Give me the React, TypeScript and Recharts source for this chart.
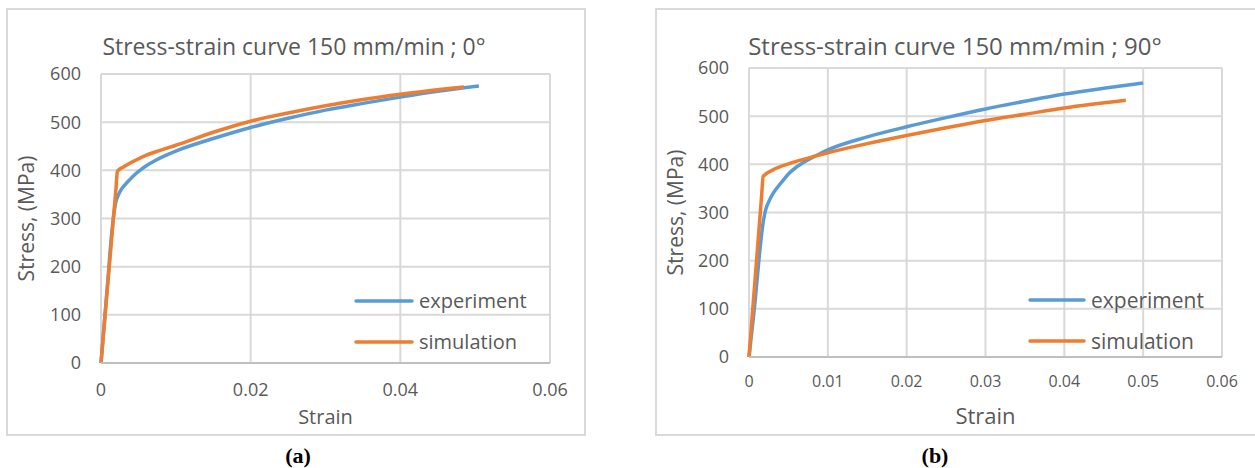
import { LineChart, Line, XAxis, YAxis, CartesianGrid, Legend } from "recharts"

// panel (a): 0 degrees
const strainExp0 = [0, 0.0008, 0.0015, 0.0018, 0.002, 0.0023, 0.0027, 0.0032, 0.0038, 0.0045, 0.0053, 0.0062, 0.0072, 0.0085, 0.01, 0.015, 0.02, 0.025, 0.03, 0.035, 0.04, 0.045, 0.0505]
const stressExp0 = [0, 150, 280, 318, 335, 348, 360, 370, 380, 391, 401, 411, 420, 430, 440, 466, 489, 508, 525, 539, 552, 564, 575]
const strainSim0 = [0, 0.002, 0.0022, 0.003, 0.0045, 0.006, 0.008, 0.01, 0.015, 0.02, 0.025, 0.03, 0.035, 0.04, 0.0485]
const stressSim0 = [0, 362, 398, 407, 420, 431, 442, 452, 479, 502, 519, 534, 547, 558, 573]

// panel (b): 90 degrees
const strainExp90 = [0, 0.0008, 0.0014, 0.0018, 0.0021, 0.0025, 0.003, 0.0036, 0.0043, 0.005, 0.006, 0.007, 0.008, 0.009, 0.01, 0.015, 0.02, 0.025, 0.03, 0.035, 0.04, 0.045, 0.05]
const stressExp90 = [0, 120, 225, 280, 305, 322, 338, 352, 366, 380, 394, 405, 414, 422, 430, 457, 478, 497, 515, 531, 546, 558, 569]
const strainSim90 = [0, 0.0016, 0.0018, 0.003, 0.005, 0.0075, 0.01, 0.015, 0.02, 0.025, 0.03, 0.035, 0.04, 0.0478]
const stressSim90 = [0, 335, 375, 388, 401, 413, 424, 443, 460, 476, 491, 504, 517, 533]

const stressTicks = [0, 100, 200, 300, 400, 500, 600]
const strainTicks0 = [0, 0.02, 0.04, 0.06]
const strainTicks90 = [0, 0.01, 0.02, 0.03, 0.04, 0.05, 0.06]

const BLUE = "#5B9BD5"
const ORANGE = "#ED7D31"
const TEXT = "#595959"
const GRID = "#D9D9D9"
const FONT = "'Open Sans', sans-serif"

function toPoints(xs: number[], ys: number[]) {
  return xs.map((x, i) => ({ strain: x, stress: ys[i] }))
}

interface PanelProps {
  left: number
  width: number
  title: string
  caption: string
  exp: { strain: number; stress: number }[]
  sim: { strain: number; stress: number }[]
  xTicks: number[]
  plot: { top: number; right: number; yWidth: number; xHeight: number }
  titleSize: number
  titleX: number
  titleY: number
  yTickSize: number
  xTickSize: number
  xTickMargin: number
  labelSize: number
  legend: { left: number; top: number; size: number; line: number }
  captionX: number
}

function LegendBox({ payload, size, line }: any) {
  return (
    <div>
      {(payload || []).map((p: any) => (
        <div key={p.value} style={{ display: "flex", alignItems: "center", height: 41 }}>
          <svg width={line} height={6} style={{ marginRight: 5 }}>
            <line x1={2} y1={3} x2={line - 2} y2={3} stroke={p.color} strokeWidth={3.5} strokeLinecap="round" />
          </svg>
          <span style={{ fontFamily: FONT, fontSize: size, color: TEXT }}>{p.value}</span>
        </div>
      ))}
    </div>
  )
}

function Panel(props: PanelProps) {
  const height = 428
  return (
    <div style={{ position: "absolute", left: props.left, top: 8, width: props.width, height }}>
      <div
        style={{
          position: "absolute",
          inset: 0,
          border: `2px solid ${GRID}`,
          boxSizing: "border-box",
        }}
      />
      <div
        style={{
          position: "absolute",
          left: props.titleX,
          top: props.titleY,
          transform: "translate(-50%, -50%)",
          whiteSpace: "nowrap",
          fontFamily: FONT,
          fontSize: props.titleSize,
          color: TEXT,
        }}
      >
        {props.title}
      </div>
      <LineChart
        width={props.width}
        height={height}
        margin={{ top: props.plot.top, right: props.plot.right, bottom: 0, left: 0 }}
        style={{ position: "absolute", left: 0, top: 0 }}
      >
        <CartesianGrid stroke={GRID} strokeWidth={2} />
        <XAxis
          dataKey="strain"
          type="number"
          domain={[0, 0.06]}
          ticks={props.xTicks}
          height={props.plot.xHeight}
          tickLine={false}
          tickSize={0}
          tickMargin={props.xTickMargin}
          axisLine={{ stroke: "#BFBFBF", strokeWidth: 2 }}
          tick={{ fill: TEXT, fontSize: props.xTickSize, fontFamily: FONT }}
          label={{
            value: "Strain",
            position: "insideBottom",
            offset: 12,
            fill: TEXT,
            fontSize: props.labelSize,
            fontFamily: FONT,
          }}
        />
        <YAxis
          type="number"
          domain={[0, 600]}
          ticks={stressTicks}
          width={props.plot.yWidth}
          tickLine={false}
          axisLine={false}
          tickSize={0}
          tickMargin={20}
          tick={{ fill: TEXT, fontSize: props.yTickSize, fontFamily: FONT }}
          label={{
            value: "Stress, (MPa)",
            angle: -90,
            position: "insideLeft",
            offset: 21,
            fill: TEXT,
            fontSize: 21,
            fontFamily: FONT,
            style: { textAnchor: "middle" },
          }}
        />
        <Legend
          layout="vertical"
          align="center"
          verticalAlign="middle"
          wrapperStyle={{ left: props.legend.left, top: props.legend.top, width: "auto" }}
          content={(p: any) => <LegendBox payload={p.payload} size={props.legend.size} line={props.legend.line} />}
        />
        <Line
          data={props.exp}
          dataKey="stress"
          name="experiment"
          type="monotone"
          stroke={BLUE}
          strokeWidth={3.5}
          dot={false}
          isAnimationActive={false}
        />
        <Line
          data={props.sim}
          dataKey="stress"
          name="simulation"
          type="monotone"
          stroke={ORANGE}
          strokeWidth={3.5}
          dot={false}
          isAnimationActive={false}
        />
      </LineChart>
      <div
        style={{
          position: "absolute",
          left: props.captionX,
          top: 437,
          transform: "translateX(-50%)",
          fontFamily: "'Liberation Serif', 'Times New Roman', serif",
          fontWeight: "bold",
          fontSize: 22,
          lineHeight: "22px",
          color: "#000",
        }}
      >
        {props.caption}
      </div>
    </div>
  )
}

export default function App() {
  return (
    <div style={{ position: "absolute", left: 0, top: 0, width: 1255, height: 468, background: "#fff", overflow: "hidden" }}>
      <Panel
        left={6}
        width={580}
        title="Stress-strain curve 150 mm/min ; 0°"
        caption="(a)"
        exp={toPoints(strainExp0, stressExp0)}
        sim={toPoints(strainSim0, stressSim0)}
        xTicks={strainTicks0}
        plot={{ top: 66, right: 36, yWidth: 95, xHeight: 73 }}
        titleSize={23}
        titleX={288}
        titleY={38}
        yTickSize={18}
        xTickSize={18}
        xTickMargin={20}
        labelSize={20}
        legend={{ left: 348, top: 272, size: 20, line: 60 }}
        captionX={292}
      />
      <Panel
        left={655}
        width={602}
        title="Stress-strain curve 150 mm/min ; 90°"
        caption="(b)"
        exp={toPoints(strainExp90, stressExp90)}
        sim={toPoints(strainSim90, stressSim90)}
        xTicks={strainTicks90}
        plot={{ top: 60, right: 35, yWidth: 94, xHeight: 79 }}
        titleSize={24}
        titleX={300}
        titleY={37}
        yTickSize={18}
        xTickSize={16}
        xTickMargin={19}
        labelSize={22}
        legend={{ left: 373, top: 271, size: 21, line: 58 }}
        captionX={280}
      />
    </div>
  )
}
